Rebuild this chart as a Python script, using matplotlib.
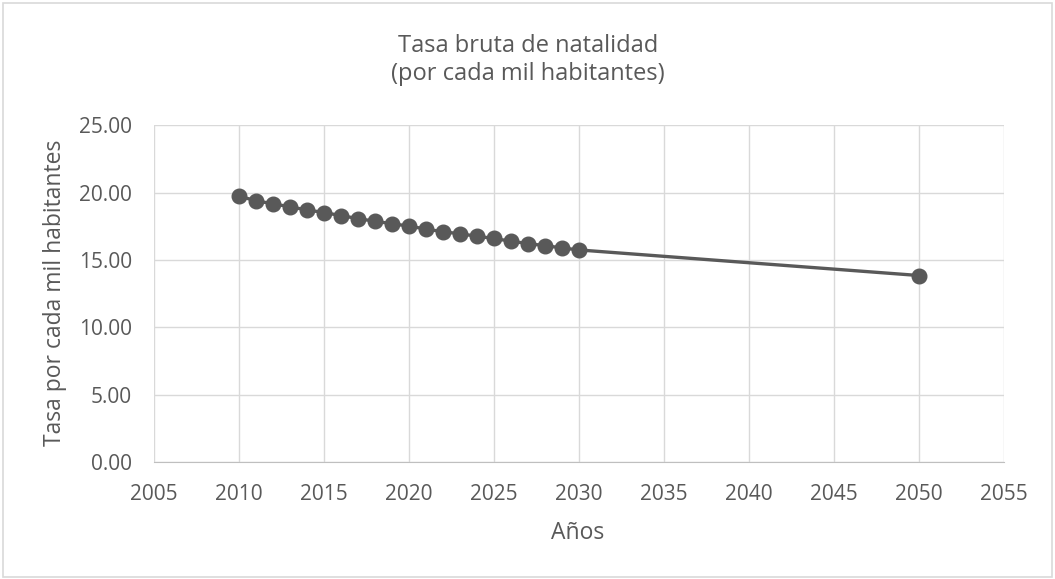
import matplotlib
matplotlib.use("Agg")
import matplotlib.pyplot as plt
from matplotlib.patches import Rectangle

years = [2010, 2011, 2012, 2013, 2014, 2015, 2016, 2017, 2018, 2019, 2020,
         2021, 2022, 2023, 2024, 2025, 2026, 2027, 2028, 2029, 2030, 2050]
rates = [19.75, 19.40, 19.18, 18.95, 18.72, 18.53, 18.30, 18.08, 17.88, 17.70, 17.52,
         17.30, 17.10, 16.95, 16.77, 16.60, 16.40, 16.22, 16.07, 15.90, 15.75, 13.85]
x_ticks = list(range(2005, 2056, 5))
y_ticks = [0, 5, 10, 15, 20, 25]

plt.rcParams['font.family'] = ['Open Sans', 'DejaVu Sans']
text_color = '#595959'
W, H = 1055, 579

fig = plt.figure(figsize=(W / 100, H / 100), dpi=100)
fig.patches.append(Rectangle((3 / W, 2 / H), (W - 6) / W, (H - 5) / H, transform=fig.transFigure,
                             fill=False, edgecolor='#D9D9D9', linewidth=1.2))
ax = fig.add_axes([154 / W, 1 - 462 / H, 850 / W, 336.6 / H])

ax.plot(years, rates, color='#595959', linewidth=2.4, marker='o', markersize=10.5,
        markerfacecolor='#595959', markeredgecolor='#595959', zorder=3)

ax.set_xlim(2005, 2055)
ax.set_ylim(0, 25)
ax.set_xticks(x_ticks)
ax.set_yticks(y_ticks)
ax.set_yticklabels([f"{v:.2f}" for v in y_ticks])
ax.grid(True, color='#D9D9D9', linewidth=1)
ax.set_axisbelow(True)
for s in ['top', 'right', 'left']:
    ax.spines[s].set_visible(False)
ax.spines['bottom'].set_color('#BFBFBF')
ax.tick_params(axis='x', length=0, labelsize=15, colors=text_color, pad=16)
ax.tick_params(axis='y', length=0, labelsize=15, colors=text_color, pad=16)

fig.text(578 / W, 1 - 533 / H, 'Años', ha='center', va='center',
         fontsize=16.5, color=text_color)
fig.text(55 / W, 1 - 293 / H, 'Tasa por cada mil habitantes', ha='center', va='center',
         rotation=90, fontsize=16.5, color=text_color)
fig.text(528 / W, 1 - 52 / H, 'Tasa bruta de natalidad', ha='center', va='baseline',
         fontsize=17, color=text_color)
fig.text(528 / W, 1 - 80 / H, '(por cada mil habitantes)', ha='center', va='baseline',
         fontsize=17, color=text_color)

fig.savefig('out.png', dpi=100)
